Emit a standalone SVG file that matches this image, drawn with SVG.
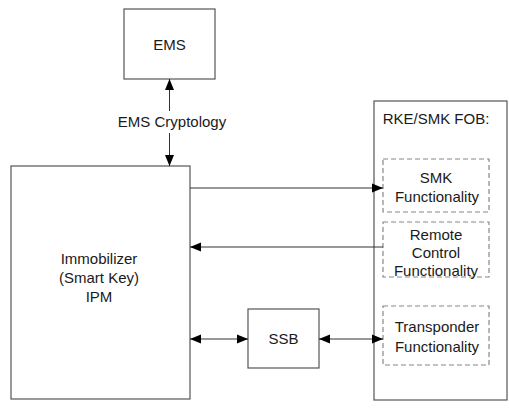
<svg xmlns="http://www.w3.org/2000/svg" width="509" height="410" viewBox="0 0 509 410">
<style>
.box{fill:#fff;stroke:#555;stroke-width:1.2}
.dash{fill:none;stroke:#888;stroke-width:1.2;stroke-dasharray:5,3}
.t{font-family:"Liberation Sans",Arial,sans-serif;font-size:15px;fill:#1a1a1a;text-anchor:middle}
.c{stroke:#333;stroke-width:1;fill:none}
</style>
<defs>
<marker id="ah" viewBox="0 0 11 10" refX="11" refY="5" markerWidth="11" markerHeight="10" markerUnits="userSpaceOnUse" orient="auto-start-reverse">
<path d="M0,0.5 L11,5 L0,9.5 Z" fill="#000"/>
</marker>
</defs>
<rect width="509" height="410" fill="#fff"/>
<g id="ems">
<rect class="box" x="124" y="9" width="91" height="70"/>
<text class="t" x="169.5" y="50">EMS</text>
</g>
<g id="immobilizer">
<rect class="box" x="11" y="166" width="179" height="233"/>
<text class="t" x="99" y="264">Immobilizer</text>
<text class="t" x="99" y="283">(Smart Key)</text>
<text class="t" x="99" y="302">IPM</text>
</g>
<g id="ssb">
<rect class="box" x="248" y="309" width="71" height="59"/>
<text class="t" x="283.5" y="344">SSB</text>
</g>
<g id="fob">
<rect class="box" x="374" y="101" width="133" height="299"/>
<text class="t" x="436" y="124">RKE/SMK FOB:</text>
</g>
<g id="smk">
<rect class="dash" x="383" y="159" width="106" height="53"/>
<text class="t" x="436" y="183">SMK</text>
<text class="t" x="437" y="202">Functionality</text>
</g>
<g id="remote">
<rect class="dash" x="383" y="222" width="106" height="55"/>
<text class="t" x="436" y="240">Remote</text>
<text class="t" x="436" y="258">Control</text>
<text class="t" x="436" y="276">Functionality</text>
</g>
<g id="transponder">
<rect class="dash" x="383" y="306" width="106" height="59"/>
<text class="t" x="437" y="332">Transponder</text>
<text class="t" x="437" y="352">Functionality</text>
</g>
<g id="connectors">
<line class="c" x1="169.5" y1="79" x2="169.5" y2="111" marker-start="url(#ah)"/>
<line class="c" x1="169.5" y1="133" x2="169.5" y2="166" marker-end="url(#ah)"/>
<text class="t" x="172" y="127">EMS Cryptology</text>
<line class="c" x1="190" y1="188" x2="383" y2="188" marker-end="url(#ah)"/>
<line class="c" x1="383" y1="247" x2="190" y2="247" marker-end="url(#ah)"/>
<line class="c" x1="190" y1="339" x2="248" y2="339" marker-start="url(#ah)" marker-end="url(#ah)"/>
<line class="c" x1="319" y1="339" x2="383" y2="339" marker-start="url(#ah)" marker-end="url(#ah)"/>
</g>
</svg>
